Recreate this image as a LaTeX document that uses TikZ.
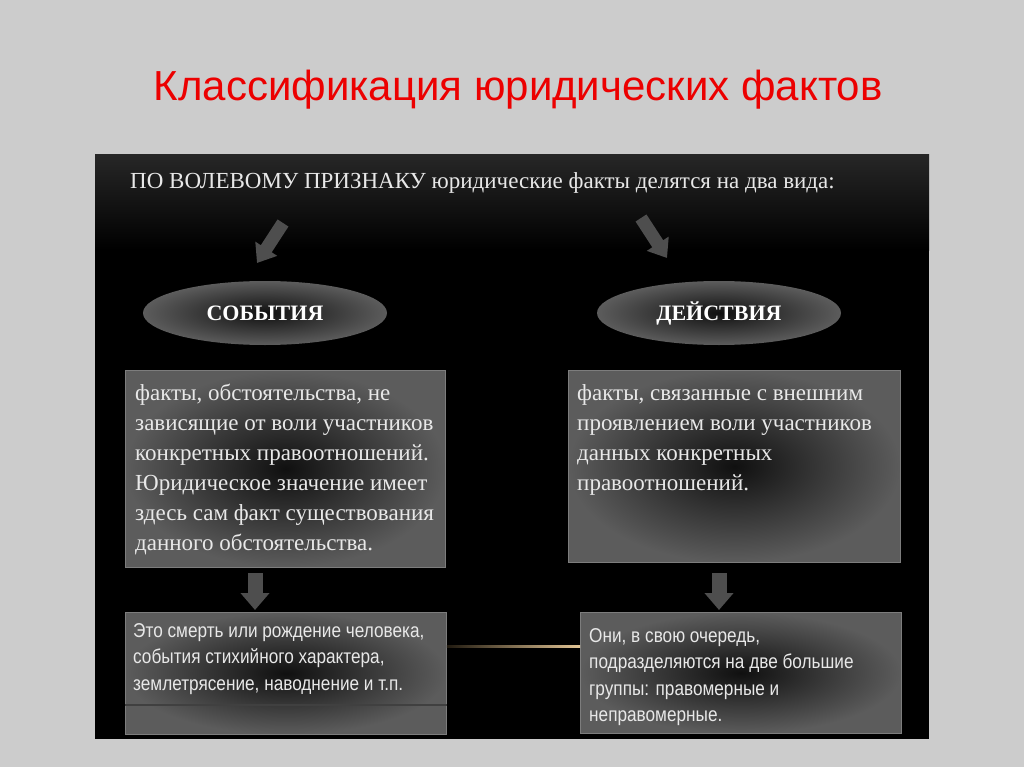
\documentclass[tikz,border=0pt]{standalone}
\usepackage{fontspec}
\setmainfont{Liberation Serif}
\newfontfamily\titlefont{Liberation Sans}
\newfontfamily\narrowfont[FakeStretch=0.86]{Liberation Sans}
\usetikzlibrary{arrows.meta,shapes.geometric,positioning}

\definecolor{slide}{RGB}{204,204,204}
\definecolor{titlered}{RGB}{236,0,0}
\definecolor{boxgray}{RGB}{92,92,92}
\definecolor{boxdark}{RGB}{16,16,16}
\definecolor{arrowgray}{RGB}{78,78,78}
\definecolor{gold}{RGB}{214,172,104}
\definecolor{softwhite}{RGB}{232,232,232}

\tikzset{
  kind/.style={ellipse, minimum width=244pt, minimum height=64pt,
    inner color=boxdark, outer color=boxgray, text=white,
    font=\fontsize{22}{24}\selectfont\bfseries},
  factbox/.style={rectangle, draw=boxgray!80!white, line width=0.8pt,
    inner color=boxdark, outer color=boxgray, anchor=north west},
  serifbody/.style={anchor=north west, inner sep=0pt, align=left, text=softwhite,
    font=\fontsize{23}{30}\selectfont},
  sansbody/.style={anchor=north west, inner sep=0pt, align=left, text=softwhite,
    font=\narrowfont\fontsize{20}{26.5}\selectfont},
  blockarrow/.style={draw=arrowgray, line width=15pt,
    -{Triangle[width=28pt,length=17pt]}}
}

\begin{document}
\begin{tikzpicture}[x=1pt,y=-1pt]
\useasboundingbox (0,0) rectangle (1024,767);
\fill[slide] (0,0) rectangle (1024,767);

\node[anchor=base, text=titlered, font=\titlefont\fontsize{42}{48}\selectfont] (title) at (518,101) {Классификация юридических фактов};

% black panel
\fill[black] (95,155) rectangle (929,739);
\shade[top color=black!85, bottom color=black] (95,155) rectangle (929,250);

\node[anchor=base west, inner sep=0pt, text=softwhite, font=\fontsize{23}{26}\selectfont] (hdr) at (130,189) {ПО ВОЛЕВОМУ ПРИЗНАКУ юридические факты делятся на два вида:};

\coordinate (ltail) at (283,223);
\coordinate (lhead) at (257,263);
\coordinate (rtail) at (641,218);
\coordinate (rhead) at (667,258);
\draw[blockarrow, line width=13pt, -{Triangle[width=25pt,length=17pt]}] (ltail) -- (lhead);
\draw[blockarrow, line width=13pt, -{Triangle[width=25pt,length=17pt]}] (rtail) -- (rhead);

\node[kind] (events) at (265,313) {СОБЫТИЯ};
\node[kind] (acts) at (719,313) {ДЕЙСТВИЯ};

% middle boxes
\node[factbox, minimum width=320pt, minimum height=197pt] (evbox) at (125,370) {};
\node[factbox, minimum width=332pt, minimum height=192pt] (acbox) at (568,370) {};

\node[serifbody] (evtext) at ([shift={(10pt,-14pt)}]evbox.north west)
  {факты, обстоятельства, не\\зависящие от воли участников\\конкретных правоотношений.\\Юридическое значение имеет\\здесь сам факт существования\\данного обстоятельства.};
\node[serifbody] (actext) at ([shift={(9pt,-14pt)}]acbox.north west)
  {факты, связанные с внешним\\проявлением воли участников\\данных конкретных\\правоотношений.};

% bottom boxes
\node[factbox, minimum width=321pt, minimum height=122pt] (evex) at (125,612) {};
\node[factbox, minimum width=321pt, minimum height=121pt] (acex) at (580,612) {};
\draw[black!75, line width=1.5pt] ([yshift=-93pt]evex.north west) -- ([yshift=-93pt]evex.north east);

\coordinate (ldtail) at (255,573);
\coordinate (ldhead) at (255,610);
\coordinate (rdtail) at (719,573);
\coordinate (rdhead) at (719,610);
\draw[blockarrow] (ldtail) -- (ldhead);
\draw[blockarrow] (rdtail) -- (rdhead);

\node[sansbody] (evextext) at ([shift={(8pt,-11pt)}]evex.north west)
  {Это смерть или рождение человека,\\события стихийного характера,\\землетрясение, наводнение и т.п.};
\node[sansbody] (acextext) at ([shift={(9pt,-16pt)}]acex.north west)
  {Они, в свою очередь,\\подразделяются на две большие\\группы: правомерные и\\неправомерные.};

\shade[left color=gold!15!black, middle color=gold, right color=gold!70!white]
  ([yshift=28pt]evex.east) rectangle ([yshift=25.5pt]acex.west);

\end{tikzpicture}
\end{document}
